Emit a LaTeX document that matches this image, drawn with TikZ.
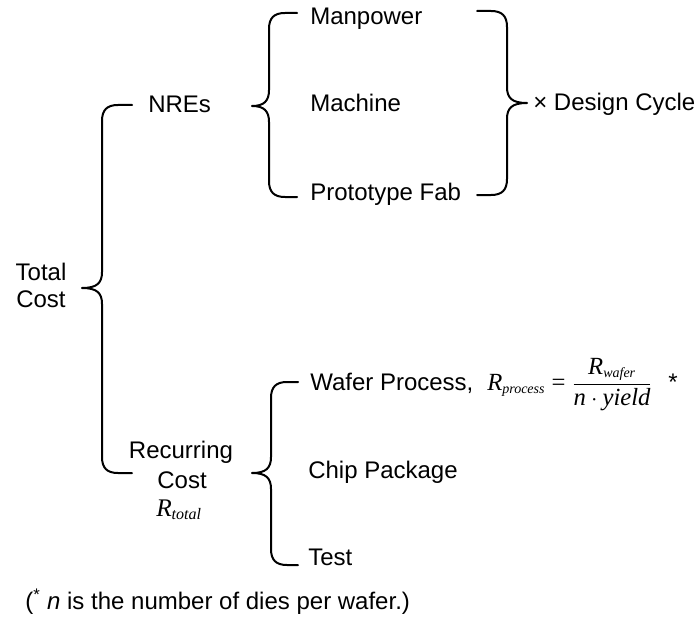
\documentclass[tikz,border=0pt]{standalone}
\usepackage{fontspec}
\setmainfont{Liberation Sans}
\newfontfamily\tnr{Liberation Serif}
% #1 end x, #2 spine x, #3 tip x, #4 top y, #5 tip y, #6 bottom y, #7 side (+1 opens right, -1 opens left)
\newcommand\mybrace[7]{%
  \draw[bracestyle] (#1,#4) -- ({#2+16*(#7)},#4)
    .. controls ({#2+5*(#7)},#4) and (#2,{#4+5}) .. (#2,{#4+16})
    -- (#2,{#5-16})
    .. controls (#2,{#5-5}) and ({#2-5*(#7)},#5) .. (#3,#5)
    .. controls ({#2-5*(#7)},#5) and (#2,{#5+5}) .. (#2,{#5+16})
    -- (#2,{#6-16})
    .. controls (#2,{#6-5}) and ({#2+5*(#7)},#6) .. ({#2+16*(#7)},#6)
    -- (#1,#6);}
\newcommand\ital[2]{\mbox{\tnr\itshape\fontsize{#1}{#1}\selectfont #2}}
\begin{document}
\begin{tikzpicture}[x=0.75pt,y=-0.75pt,
  bracestyle/.style={line width=1.5pt, line cap=round, line join=round},
  lbl/.style={anchor=base west, inner sep=0pt, font=\fontsize{18}{21}\selectfont},
  clbl/.style={anchor=base, inner sep=0pt, font=\fontsize{18}{21}\selectfont}]
\useasboundingbox (0,0) rectangle (698,620);

% braces
\mybrace{297}{269}{252}{13}{106}{197}{1}
\mybrace{477}{507}{527}{11}{103}{195}{-1}
\mybrace{132}{102}{82}{105}{288}{473}{1}
\mybrace{298}{271}{252}{382}{473}{565}{1}

% left labels
\node[clbl] (total) at (41,280) {Total};
\node[clbl] (cost) at (41,307) {Cost};
\node[lbl] (nre) at (148,113) {NREs};
\node[clbl] (rec1) at (181,458) {Recurring};
\node[clbl] (rec2) at (182,488) {Cost};
\node[anchor=base, inner sep=0pt] (rec3) at (179,516)
  {\fontsize{19}{19}\selectfont$\ital{19}{R}_{\ital{12}{total}}$};

% NRE items
\node[lbl] (man) at (310,25) {Manpower};
\node[lbl] (mach) at (310,112) {Machine};
\node[lbl] (proto) at (310,200) {Prototype Fab};
\node[lbl] (dc) at (533,111) {× Design Cycle};

% recurring items
\node[lbl] (wp) at (310,390) {Wafer Process,};
\node[anchor=base west, inner sep=0pt] (form) at (487,390)
  {\fontsize{18.5}{18.5}\selectfont$\ital{18.5}{R}_{\ital{10.5}{process}}
   \mathrel{\mbox{\tnr\fontsize{18.5}{18.5}\selectfont =}}
   {\displaystyle\frac{\ital{18.5}{R}_{\ital{10.5}{wafer}}}{\ital{18.5}{n}\cdot\ital{18.5}{yield}}}$};
\node[lbl] (star) at (668,390) {*};
\node[lbl] (chip) at (308,478) {Chip Package};
\node[lbl] (test) at (308,565) {Test};

% footnote
\node[lbl] (foot) at (25,609) {(\textsuperscript{*} \textit{n} is the number of dies per wafer.)};
\end{tikzpicture}
\end{document}
